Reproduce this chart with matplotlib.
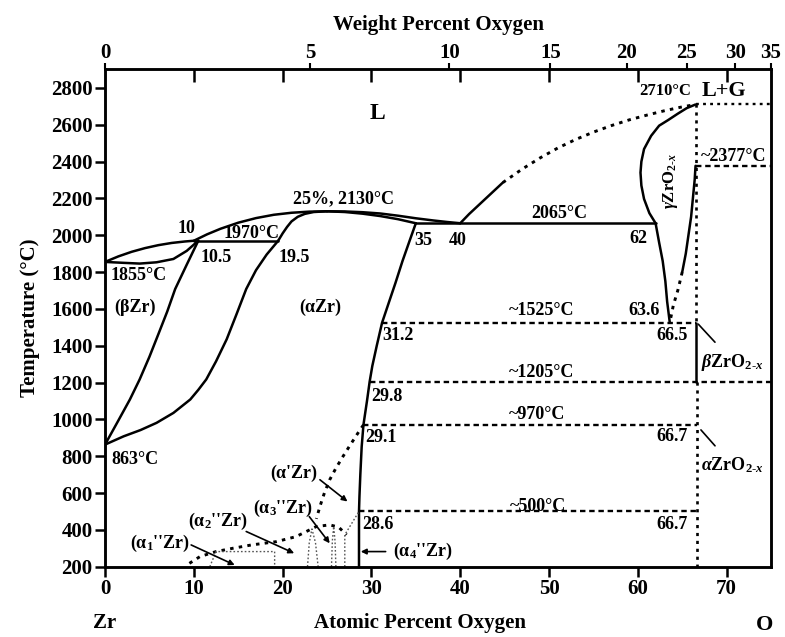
import numpy as np
import matplotlib
matplotlib.use("Agg")
import matplotlib.pyplot as plt

# Zr-O phase boundaries: atomic percent oxygen vs temperature (degC)
beta_liq_x = [0, 1.5, 3, 4.5, 6, 7.5, 9, 10]
beta_liq_T = [1855, 1885, 1910, 1930, 1946, 1958, 1966, 1970]
liq_x = [10, 11.5, 13, 15, 17, 19, 21, 23, 25, 27, 29, 31, 33, 35, 37, 38.5, 40]
liq_T = [1970, 2005, 2035, 2068, 2093, 2111, 2122, 2128, 2130, 2129, 2125, 2118, 2106, 2092, 2080, 2072, 2065]
beta_sol_x = [0, 2.1, 3.9, 5.8, 7.7, 9.2, 10.5]
beta_sol_T = [1855, 1850, 1846, 1853, 1871, 1915, 1970]
peri_x = [10, 19.5]
peri_T = [1970, 1970]
alpha_sol_left_x = [19.5, 20, 20.5, 21, 21.7, 22.5, 23.5, 25]
alpha_sol_left_T = [1970, 2010, 2045, 2075, 2100, 2116, 2126, 2130]
alpha_sol_right_x = [25, 27, 29, 31, 33, 35]
alpha_sol_right_T = [2130, 2126, 2117, 2104, 2087, 2065]
mono_x = [35, 62]
mono_T = [2065, 2065]
alpha_solv_x = [35, 34.3, 33.5, 32.7, 32, 31.2, 30.6, 30.1, 29.8, 29.5, 29.1, 28.9, 28.75, 28.65, 28.6, 28.6]
alpha_solv_T = [2065, 1970, 1860, 1740, 1640, 1525, 1400, 1290, 1205, 1100, 970, 850, 700, 580, 500, 200]
beta_solv_x = [0, 1.4, 2.8, 3.9, 5, 6, 7, 7.9, 9.2, 10.5]
beta_solv_T = [863, 985, 1108, 1217, 1340, 1462, 1585, 1708, 1840, 1970]
ab_solv_x = [0, 2.1, 4, 5.8, 7.7, 9.6, 10.5, 11.4, 12.5, 13.7, 14.8, 15.9, 17, 18.2, 19.5]
ab_solv_T = [863, 908, 942, 981, 1035, 1108, 1160, 1217, 1315, 1435, 1570, 1708, 1810, 1895, 1970]

liq_r_solid_x = [40, 41, 42, 43, 44, 44.8]
liq_r_solid_T = [2065, 2115, 2160, 2205, 2250, 2286]
liq_r_dot_x = [44.8, 47, 49, 51, 53, 55, 57, 59, 61, 63, 64.8, 66.5]
liq_r_dot_T = [2286, 2360, 2420, 2474, 2520, 2560, 2595, 2626, 2652, 2676, 2695, 2710]

gamma_left_x = [66.5, 65.5, 64.5, 63.4, 62.4, 61.5, 60.7, 60.4, 60.3, 60.4, 60.7, 61.3, 62, 62.4, 62.8, 63.1, 63.3, 63.6]
gamma_left_T = [2710, 2690, 2660, 2625, 2595, 2540, 2468, 2400, 2340, 2270, 2197, 2120, 2065, 1960, 1860, 1750, 1640, 1525]
gamma_right_x = [66.5, 66.4, 66.2, 66.0, 65.7, 65.4, 65.0]
gamma_right_T = [2377, 2300, 2200, 2100, 2000, 1900, 1800]
gamma_right_dot_x = [65.0, 64.5, 64.0, 63.6]
gamma_right_dot_T = [1800, 1700, 1620, 1525]

# isotherms: (T, x_start, x_end)
iso_solid = [(2065, 35, 62)]
iso_dashed = [(2377, 66.5, 75), (1525, 31.2, 66.5), (1205, 29.8, 75), (970, 29.1, 66.7), (500, 28.6, 66.7)]
iso_dotted = [(2710, 66.5, 75)]

# low temperature ordered phases
alpha_p_x = [29.1, 28.5, 27.6, 26.8, 26.0, 25.3, 24.7, 24.2, 23.8]
alpha_p_T = [970, 927, 860, 799, 735, 672, 600, 527, 460]
order_x = [9.5, 10.7, 12.5, 14.4, 16.5, 19.3, 21.5, 23.8, 25.3, 26.3, 27.2]
order_T = [218, 255, 282, 300, 318, 336, 363, 418, 427, 415, 373]
a1_x = [11.8, 12.5, 19.1, 19.1]
a1_T = [200, 282, 282, 200]
a3_x = [22.8, 23.0, 23.3, 23.7, 24.0]
a3_T = [200, 330, 405, 330, 200]
a4_x = [25.5, 25.6, 25.75, 25.9, 26.0]
a4_T = [200, 340, 418, 340, 200]
a5_x = [27.0, 27.0, 28.6]
a5_T = [200, 373, 500]

temp_ticks = list(range(200, 2801, 200))
at_ticks = list(range(0, 71, 10))
wt_ticks = [0, 5, 10, 15, 20, 25, 30, 35]

plt.rcParams["font.family"] = ["Liberation Serif", "DejaVu Serif"]
plt.rcParams["font.weight"] = "bold"
plt.rcParams["axes.labelweight"] = "bold"
plt.rcParams["mathtext.fontset"] = "custom"
plt.rcParams["mathtext.rm"] = "Liberation Serif:bold"
plt.rcParams["mathtext.it"] = "Liberation Serif:italic:bold"
plt.rcParams["mathtext.bf"] = "Liberation Serif:bold"

fig = plt.figure(figsize=(7.85, 6.37), dpi=100)
ax = fig.add_axes([0.1338, 0.1104, 0.8484, 0.7805])
ax.set_xlim(0, 75)
ax.set_ylim(200, 2900)

K = "black"


def solid(x, y, lw=1.8):
    ax.plot(x, y, color=K, lw=lw, solid_capstyle="round", solid_joinstyle="round")


def dotted(x, y, lw=2.1):
    ax.plot(x, y, color=K, lw=lw, linestyle=(0, (1.2, 1.8)))


def dashed(x, y):
    ax.plot(x, y, color=K, lw=1.7, linestyle=(0, (2.3, 1.6)))


def faint(x, y):
    ax.plot(x, y, color="#555555", lw=1.0, linestyle=(0, (1.2, 1.5)))


solid(beta_liq_x, beta_liq_T)
solid(liq_x, liq_T)
solid(beta_sol_x, beta_sol_T)
solid(peri_x, peri_T)
solid(alpha_sol_left_x, alpha_sol_left_T)
solid(alpha_sol_right_x, alpha_sol_right_T)
solid(alpha_solv_x, alpha_solv_T)
solid(beta_solv_x, beta_solv_T)
solid(ab_solv_x, ab_solv_T)
solid(liq_r_solid_x, liq_r_solid_T)
dotted(liq_r_dot_x, liq_r_dot_T)
solid(gamma_left_x, gamma_left_T)
solid(gamma_right_x, gamma_right_T)
dotted(gamma_right_dot_x, gamma_right_dot_T)

for T, x0, x1 in iso_solid:
    solid([x0, x1], [T, T])
for T, x0, x1 in iso_dashed:
    dashed([x0, x1], [T, T])
for T, x0, x1 in iso_dotted:
    dotted([x0, x1], [T, T], lw=1.7)

# ZrO2 line compound
dotted([66.5, 66.5], [2710, 1525], lw=1.9)
solid([66.5, 66.5], [1525, 1205])
dotted([66.7, 66.7], [1205, 200], lw=1.9)

dotted(alpha_p_x, alpha_p_T)
dotted(order_x, order_T)
faint(a1_x, a1_T)
faint(a3_x, a3_T)
faint(a4_x, a4_T)
faint(a5_x, a5_T)

# labels
fs = 13
ax.text(30.7, 2661, "L", fontsize=17, ha="center", va="center")
ax.text(66.0, 2781, "2710°C", fontsize=12, ha="right", va="center")
ax.text(69.7, 2781, "L+G", fontsize=16, ha="center", va="center")
ax.text(70.8, 2426, "~2377°C", fontsize=fs, ha="center", va="center")
ax.text(63.7, 2294, r"$\gamma$ZrO$_{2\text{-}x}$", fontsize=12, rotation=90, ha="center", va="center")
ax.text(51.1, 2117, "2065°C", fontsize=fs, ha="center", va="center")
ax.text(60.1, 1980, "62", fontsize=fs, ha="center", va="center")
ax.text(60.7, 1590, "63.6", fontsize=fs, ha="center", va="center")
ax.text(63.9, 1453, "66.5", fontsize=fs, ha="center", va="center")
ax.text(70.6, 1308, r"$\beta$ZrO$_{2\text{-}x}$", fontsize=fs, ha="center", va="center")
ax.text(49.2, 1590, "~1525°C", fontsize=fs, ha="center", va="center")
ax.text(49.2, 1254, "~1205°C", fontsize=fs, ha="center", va="center")
ax.text(48.7, 1027, "~970°C", fontsize=fs, ha="center", va="center")
ax.text(48.7, 527, "~500°C", fontsize=fs, ha="center", va="center")
ax.text(33.0, 1453, "31.2", fontsize=fs, ha="center", va="center")
ax.text(31.8, 1126, "29.8", fontsize=fs, ha="center", va="center")
ax.text(31.1, 900, "29.1", fontsize=fs, ha="center", va="center")
ax.text(30.7, 427, "28.6", fontsize=fs, ha="center", va="center")
ax.text(63.9, 908, "66.7", fontsize=fs, ha="center", va="center")
ax.text(70.6, 754, r"$\alpha$ZrO$_{2\text{-}x}$", fontsize=fs, ha="center", va="center")
ax.text(63.9, 427, "66.7", fontsize=fs, ha="center", va="center")
ax.text(3.75, 1780, "1855°C", fontsize=fs, ha="center", va="center")
ax.text(3.4, 1608, "(βZr)", fontsize=fs, ha="center", va="center")
ax.text(9.2, 2035, "10", fontsize=fs, ha="center", va="center")
ax.text(12.5, 1881, "10.5", fontsize=fs, ha="center", va="center")
ax.text(16.5, 2007, "1970°C", fontsize=fs, ha="center", va="center")
ax.text(21.3, 1881, "19.5", fontsize=fs, ha="center", va="center")
ax.text(26.8, 2198, "25%, 2130°C", fontsize=fs, ha="center", va="center")
ax.text(24.2, 1608, "(αZr)", fontsize=fs, ha="center", va="center")
ax.text(35.8, 1971, "35", fontsize=fs, ha="center", va="center")
ax.text(39.7, 1971, "40", fontsize=fs, ha="center", va="center")
ax.text(3.4, 781, "863°C", fontsize=fs, ha="center", va="center")

arrow = dict(arrowstyle="-|>", color=K, lw=1.2, mutation_scale=8, shrinkA=0, shrinkB=0)
ax.text(21.3, 709, "(α'Zr)", fontsize=fs, ha="center", va="center")
ax.annotate("", xy=(27.3, 554), xytext=(24.2, 672), arrowprops=arrow)
ax.text(20.0, 518, "(α$_3$''Zr)", fontsize=fs, ha="center", va="center")
ax.annotate("", xy=(25.3, 327), xytext=(23.0, 472), arrowprops=arrow)
ax.text(12.7, 445, "(α$_2$''Zr)", fontsize=fs, ha="center", va="center")
ax.annotate("", xy=(21.3, 273), xytext=(15.9, 391), arrowprops=arrow)
ax.text(6.2, 327, "(α$_1$''Zr)", fontsize=fs, ha="center", va="center")
ax.annotate("", xy=(14.6, 209), xytext=(9.7, 318), arrowprops=arrow)
ax.text(35.8, 282, "(α$_4$''Zr)", fontsize=fs, ha="center", va="center")
ax.annotate("", xy=(28.8, 282), xytext=(31.6, 282), arrowprops=arrow)
ax.annotate("", xy=(66.6, 1528), xytext=(68.9, 1408), arrowprops=dict(arrowstyle="-", color=K, lw=1.2))
ax.annotate("", xy=(66.9, 954), xytext=(68.9, 845), arrowprops=dict(arrowstyle="-", color=K, lw=1.2))

# axes styling
for s in ax.spines.values():
    s.set_linewidth(1.8)
ax.set_yticks(temp_ticks)
ax.set_xticks(at_ticks)
ax.tick_params(direction="out", length=7, width=1.8, labelsize=15, pad=2)
ax.set_ylabel("Temperature (°C)", fontsize=15, labelpad=8)

# weight percent scale on top
wt = np.array(wt_ticks, dtype=float)
wt_pos = 100 * (wt / 16.0) / (wt / 16.0 + (100 - wt) / 91.224)
wt_pos = np.minimum(wt_pos, 75)
top = ax.twiny()
top.set_xlim(ax.get_xlim())
top.set_xticks(wt_pos)
top.set_xticklabels([str(w) for w in wt_ticks])
top.set_xticks(at_ticks, minor=True)
top.tick_params(which="major", direction="out", length=4, width=1.5, labelsize=15, pad=1)
top.tick_params(which="minor", direction="in", length=9, width=1.8)
top.set_xlabel("Weight Percent Oxygen", fontsize=15, labelpad=9)
for s in top.spines.values():
    s.set_linewidth(1.8)

fig.text(105 / 785, 1 - 623 / 637, "Zr", fontsize=15, ha="center", va="center")
fig.text(420 / 785, 1 - 623 / 637, "Atomic Percent Oxygen", fontsize=15, ha="center", va="center")
fig.text(765 / 785, 1 - 625 / 637, "O", fontsize=16, ha="center", va="center")

fig.savefig("out.png", dpi=100)
